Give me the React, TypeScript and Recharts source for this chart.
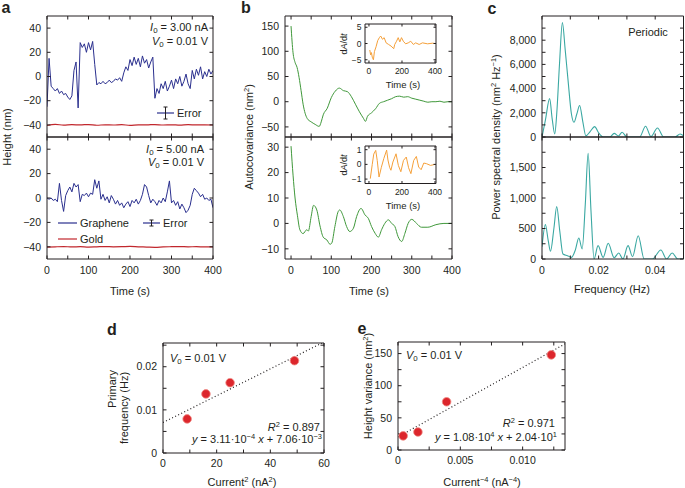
import React from "react";
import { LineChart, ComposedChart, Line, Scatter, XAxis, YAxis } from "recharts";

const FONT = "'Liberation Sans', Arial, Helvetica, sans-serif";
const INK = "#231f20";
const BLUE = "#2a2f8e";
const RED = "#c1272d";
const GREEN = "#3f983a";
const ORANGE = "#f5a03a";
const TEAL = "#3aa8a2";
const DOT = "#dc262c";

// ---- a: height traces (5 s steps) ----
const aTime = [0, 5, 10, 15, 20, 25, 30, 35, 40, 45, 50, 55, 60, 65, 70, 75, 80, 85, 90, 95, 100, 105, 110, 115, 120, 125, 130, 135, 140, 145, 150, 155, 160, 165, 170, 175, 180, 185, 190, 195, 200, 205, 210, 215, 220, 225, 230, 235, 240, 245, 250, 255, 260, 265, 270, 275, 280, 285, 290, 295, 300, 305, 310, 315, 320, 325, 330, 335, 340, 345, 350, 355, 360, 365, 370, 375, 380, 385, 390, 395, 400];
const aTopGraphene = [
  -25, 15, -8, -10, -12, -10, -14, -12, -15, -14,
  -17, -19, -16, 5, 12, -26, 28, 24, 27, 20,
  28, 22, 29, 10, -7, -5, -6, -4, -6, -5,
  -3, -5, -4, -2, -3, -1, -4, 3, 8, 5,
  14, 9, 16, 10, 15, 8, 17, 11, 14, 7,
  12, 16, -18, -10, -14, -6, -10, -4, -12, -8,
  -3, -10, -2, -6, 0, -8, -4, 2, -6, -10,
  5, -2, 6, 1, 8, -2, 4, 0, 6, 2,
  5,
];
const aBottomGraphene = [
  0, -1, 0, -2, -1, -3, 12, -2, -11, 2,
  6, 9, 5, 12, 9, 11, -3, 3, 2, 4,
  1, 4, 3, 15, 8, 14, -1, 3, -2, 1,
  -4, 2, -1, -5, -2, -6, -4, -8, -5, -3,
  -7, -2, -4, -1, -5, -2, 3, 11, 9, 2,
  -4, -1, -3, -6, -2, -4, 0, -3, 5, 14,
  -4, -2, -6, -3, -9, -5, -8, -12, -10, -6,
  3, 8, 6, 4, 1, 3, -1, 0, -2, -1,
  -8,
];
const goldTime = [0, 20, 40, 60, 80, 100, 120, 140, 160, 180, 200, 220, 240, 260, 280, 300, 320, 340, 360, 380, 400];
const aTopGold = [-40.5, -39.6, -40.2, -39.8, -40, -39.7, -40.3, -39.9, -40.1, -39.8, -40.4, -39.9, -40, -39.7, -40.1, -39.9, -40.2, -39.8, -40, -39.9, -40.1];
const aBottomGold = [-40.3, -40, -39.8, -40.1, -39.9, -40.2, -40, -39.8, -40, -39.9, -39.7, -40, -40.2, -40.4, -40.1, -39.9, -39.8, -40, -39.9, -40.1, -40];

// ---- b: autocovariance ----
const bTopTime = [0, 5, 10, 15, 20, 25, 30, 40, 50, 60, 70, 75, 80, 90, 100, 110, 120, 130, 140, 150, 160, 170, 180, 185, 190, 200, 210, 220, 230, 240, 250, 260, 270, 280, 290, 300, 310, 320, 330, 340, 350, 360, 370, 380, 390, 400];
const bTopValue = [150, 97, 78, 68, 48, 22, -5, -33, -40, -45, -49, -40, -26, -13, 8, 21, 27, 22, 20, 10, -5, -20, -33, -39, -29, -22, -14, -3, 0, 3, 6, 10, 11, 9, 10, 7, 5, 3, 1, -1, 0, 0, 1, -1, 0, 0];
const bBottomTime = [0, 5, 10, 16, 22, 30, 39, 43, 50, 56, 64, 72, 80, 89, 97, 101, 109, 117, 121, 130, 138, 146, 155, 163, 174, 184, 192, 200, 209, 217, 225, 233, 242, 250, 258, 266, 275, 283, 291, 300, 312, 324, 340, 360, 380, 400];
const bBottomValue = [30.4, 19, 10, 3, -2.5, -4, -2.5, -3, 2.7, 7.1, 5.3, -1, -5.4, -6.5, -8.2, -7.8, -1.2, 4.6, 5.3, 2.7, -1.2, -3.2, -1.9, 2.7, 5.9, 3.3, 2, -1.2, -3.9, -5.4, -2.5, 0, 1.4, 0, -1.2, -5.2, -7.1, -3.9, 0, 1.6, 0, -1.5, -1.5, -0.5, 0, 0];
const insetTopTime = [5, 10, 15, 20, 27, 33, 43, 53, 63, 71, 82, 92, 104, 119, 134, 150, 156, 167, 177, 187, 197, 208, 222, 238, 253, 269, 283, 304, 324, 355, 386, 400];
const insetTopValue = [-2, -3.5, -2.8, -4.2, -5, -2.5, -1, 0.9, 1.8, 2.3, 1.3, 1.8, 0.2, -0.3, -0.8, -1.6, -0.3, 0.7, 1.8, 0.5, 1.8, 0.7, -0.1, 0.2, 0.7, -0.3, 0.2, -0.3, 0.2, -0.1, 0.1, 0];
const insetBottomTime = [8, 20, 29, 41, 50, 61, 75, 90, 107, 115, 125, 133, 145, 164, 178, 193, 209, 226, 240, 254, 271, 287, 301, 316, 332, 348, 373, 400];
const insetBottomValue = [-0.97, 0, 0.7, 0.95, 0.27, -0.86, -0.2, 0.4, 0.97, 0.3, -0.2, -0.4, 0.16, 0.72, -0.07, -0.5, 0.27, 0.5, -0.23, -0.63, 0.27, 0.54, -0.18, -0.36, 0.09, 0.05, -0.07, 0];

// ---- c: power spectral density ----
const cTopFreq = [0, 0.0012, 0.0027, 0.0036, 0.0045, 0.0052, 0.0062, 0.0072, 0.0082, 0.0092, 0.0104, 0.0113, 0.0123, 0.0133, 0.0144, 0.0155, 0.017, 0.0186, 0.02, 0.0216, 0.024, 0.0255, 0.027, 0.0283, 0.03, 0.0345, 0.0366, 0.0385, 0.0408, 0.043, 0.047, 0.0488, 0.05];
const cTopPsd = [0, 1400, 3170, 1500, 250, 1900, 6100, 9450, 7200, 4700, 1900, 1220, 1900, 2600, 1300, 100, 450, 860, 350, 0, 0, 300, 80, 390, 0, 0, 890, 30, 750, 0, 0, 250, 100];
const cBottomFreq = [0, 0.0012, 0.0022, 0.003, 0.0042, 0.0052, 0.0063, 0.0074, 0.009, 0.0104, 0.0118, 0.013, 0.0142, 0.0153, 0.0163, 0.0173, 0.0184, 0.0198, 0.0216, 0.0234, 0.0255, 0.0271, 0.0286, 0.0304, 0.032, 0.034, 0.0361, 0.039, 0.042, 0.044, 0.046, 0.048, 0.05];
const cBottomPsd = [200, 563, 300, 126, 500, 858, 450, 82, 55, 27, 150, 344, 164, 900, 1732, 800, 0, 219, 27, 257, 20, 98, 0, 219, 38, 382, 0, 0, 148, 0, 98, 0, 0];

// ---- d, e: fits ----
const dCurrentSq = [9, 16, 25, 49];
const dFrequency = [0.0079, 0.0137, 0.0163, 0.0214];
const dFitX = [0, 60];
const dFitY = [0.00706, 0.02572];
const eCurrentInv4 = [0.000416, 0.0016, 0.0039, 0.0123];
const eVariance = [22, 28, 75, 148];
const eFitX = [0, 0.0134];
const eFitY = [20.4, 165.1];

// ticks
const aXTicks = [0, 50, 100, 150, 200, 250, 300, 350, 400];
const aYTicks = [-40, -20, 0, 20, 40];
const bTopYTicks = [-50, 0, 50, 100, 150];
const bBottomYTicks = [-10, 0, 10, 20, 30];
const insetXTicks = [0, 200, 400];
const cXTicks = [0, 0.01, 0.02, 0.03, 0.04];
const cTopYTicks = [0, 1000, 2000, 3000, 4000, 5000, 6000, 7000, 8000, 9000];
const cBottomYTicks = [0, 250, 500, 750, 1000, 1250, 1500, 1750];
const dXTicks = [0, 10, 20, 30, 40, 50, 60];
const dYTicks = [0, 0.005, 0.01, 0.015, 0.02, 0.025];
const eXTicks = [0, 0.0025, 0.005, 0.0075, 0.01, 0.0125];
const eYTicks = [0, 25, 50, 75, 100, 125, 150];

const pairs = (xs: number[], ys: number[]) => xs.map((x, i) => ({ x, y: ys[i] }));
const blank = () => "";
const num = (v: number) => (v < 0 ? "\u2212" + Math.abs(v) : String(v));
const every = (step: number) => (v: number) => (Math.abs(v % step) < 1e-9 ? num(v) : "");
const labelMap = (m: Record<string, string>) => (v: number) => m[String(v)] ?? "";

type Rect = { x: number; y: number; w: number; h: number };

// chart box around a plot rect: yw = left axis width, xh = bottom axis height,
// mr / mb = spare room on the right / below so edge labels are not clipped
function frame(r: Rect, yw: number, xh: number, mr = 0, mb = 0) {
  return {
    style: { position: "absolute", left: r.x - yw, top: r.y - 1 } as React.CSSProperties,
    width: yw + r.w + 1 + mr,
    height: 1 + r.h + xh + mb,
    margin: { top: 0, right: mr, bottom: mb, left: 0 },
  };
}

function xAx(domain: number[], ticks: number[], fmt: (v: number) => string, height: number, tm = 11, size = 10.5, ts = 3.5) {
  return {
    type: "number" as const,
    dataKey: "x",
    domain,
    ticks,
    allowDataOverflow: true,
    interval: 0 as const,
    height,
    tickFormatter: fmt,
    tickSize: -ts,
    tickMargin: tm,
    axisLine: { stroke: INK, strokeWidth: 1 },
    tickLine: { stroke: INK, strokeWidth: 1 },
    tick: { fontSize: size, fill: INK, fontFamily: FONT },
  };
}

function yAx(domain: number[], ticks: number[], fmt: (v: number) => string, width: number, tm = 9.5, size = 10.5, ts = 3.5) {
  return {
    type: "number" as const,
    dataKey: "y",
    domain,
    ticks,
    allowDataOverflow: true,
    interval: 0 as const,
    width,
    tickFormatter: fmt,
    tickSize: -ts,
    tickMargin: tm,
    axisLine: { stroke: INK, strokeWidth: 1 },
    tickLine: { stroke: INK, strokeWidth: 1 },
    tick: { fontSize: size, fill: INK, fontFamily: FONT },
  };
}

type TxtProps = {
  x: number;
  y: number;
  anchor?: "start" | "middle" | "end";
  size?: number;
  rotate?: boolean;
  bold?: boolean;
  children: React.ReactNode;
};

function Txt({ x, y, anchor = "middle", size = 11, rotate = false, bold = false, children }: TxtProps) {
  const tx = anchor === "start" ? "0" : anchor === "end" ? "-100%" : "-50%";
  return (
    <div
      style={{
        position: "absolute",
        left: x,
        top: y,
        transform: rotate ? "translate(-50%, -50%) rotate(-90deg)" : `translate(${tx}, -50%)`,
        fontSize: size,
        fontWeight: bold ? 700 : 400,
        whiteSpace: "nowrap",
        lineHeight: 1,
        color: INK,
        fontFamily: FONT,
      }}
    >
      {children}
    </div>
  );
}

const Sup = ({ children }: { children: React.ReactNode }) => (
  <span style={{ fontSize: "0.68em", position: "relative", top: "-0.5em" }}>{children}</span>
);
const Sub = ({ children }: { children: React.ReactNode }) => (
  <span style={{ fontSize: "0.72em", position: "relative", top: "0.25em" }}>{children}</span>
);

function LineKey({ x, y, color, w = 19 }: { x: number; y: number; color: string; w?: number }) {
  return (
    <svg style={{ position: "absolute", left: x, top: y - 2 }} width={w} height={4}>
      <line x1={0} y1={2} x2={w} y2={2} stroke={color} strokeWidth={1.2} />
    </svg>
  );
}

function ErrorKey({ x, y, half, w = 17 }: { x: number; y: number; half: number; w?: number }) {
  const c = w / 2;
  return (
    <svg style={{ position: "absolute", left: x, top: y - half - 1 }} width={w} height={2 * half + 2}>
      <line x1={0} y1={half + 1} x2={w} y2={half + 1} stroke={BLUE} strokeWidth={1.2} />
      <line x1={c} y1={1} x2={c} y2={2 * half + 1} stroke={INK} strokeWidth={1} />
      <line x1={c - 2} y1={1} x2={c + 2} y2={1} stroke={INK} strokeWidth={1} />
      <line x1={c - 2} y1={2 * half + 1} x2={c + 2} y2={2 * half + 1} stroke={INK} strokeWidth={1} />
    </svg>
  );
}

const RedDot = (p: any) => <circle cx={p.cx} cy={p.cy} r={4.3} fill={DOT} stroke="#f08a84" strokeWidth={0.8} />;

export default function App() {
  const aTopR = { x: 47, y: 16, w: 166, h: 121 };
  const aBotR = { x: 47, y: 137, w: 166, h: 122 };
  const bTopR = { x: 285, y: 16, w: 167, h: 121 };
  const bBotR = { x: 285, y: 137, w: 167, h: 122 };
  const inTopR = { x: 365, y: 24, w: 71, h: 39 };
  const inBotR = { x: 365, y: 146, w: 71, h: 37.5 };
  const cTopR = { x: 542, y: 16, w: 141.5, h: 121 };
  const cBotR = { x: 542, y: 137, w: 141.5, h: 122 };
  const dR = { x: 163, y: 343, w: 161, h: 110 };
  const eR = { x: 398, y: 342, w: 167, h: 108 };

  const aDom = [0, 400];
  const aYDom = [-50, 50];
  const bDom = [-15, 400];
  const inDom = [-24, 406];
  const cDom = [0, 0.05];

  const f1 = frame(aTopR, 47, 1, 0, 8);
  const f2 = frame(aBotR, 47, 30, 14);
  const f3 = frame(bTopR, 45, 1, 0, 8);
  const f4 = frame(bBotR, 45, 30, 14);
  const f5 = frame(inTopR, 22, 16, 10);
  const f6 = frame(inBotR, 22, 16, 10);
  const f7 = frame(cTopR, 50, 1, 0, 8);
  const f8 = frame(cBotR, 50, 30);
  const f9 = frame(dR, 45, 30, 10);
  const f10 = frame(eR, 40, 30, 10);

  const cFmt = (v: number) => (v % 2000 === 0 ? v.toLocaleString("en-US") : "");
  const cBotFmt = (v: number) => (v % 500 === 0 ? v.toLocaleString("en-US") : "");

  return (
    <div style={{ position: "absolute", left: 0, top: 0, width: 685, height: 488, background: "#fff", fontFamily: FONT, overflow: "hidden" }}>
      {/* ---------- a ---------- */}
      <div style={f1.style}>
        <LineChart width={f1.width} height={f1.height} margin={f1.margin}>
          <XAxis {...xAx(aDom, aXTicks, blank, 1)} />
          <XAxis xAxisId="top" orientation="top" {...xAx(aDom, aXTicks, blank, 1)} />
          <YAxis {...yAx(aYDom, aYTicks, num, 47)} />
          <YAxis yAxisId="right" orientation="right" {...yAx(aYDom, aYTicks, blank, 1)} />
          <Line data={pairs(goldTime, aTopGold)} dataKey="y" type="monotone" stroke={RED} strokeWidth={1.2} dot={false} isAnimationActive={false} />
          <Line data={pairs(aTime, aTopGraphene)} dataKey="y" type="linear" stroke={BLUE} strokeWidth={1} dot={false} isAnimationActive={false} />
        </LineChart>
      </div>
      <div style={f2.style}>
        <LineChart width={f2.width} height={f2.height} margin={f2.margin}>
          <XAxis {...xAx(aDom, aXTicks, every(100), 30)} />
          <XAxis xAxisId="top" orientation="top" {...xAx(aDom, aXTicks, blank, 1)} />
          <YAxis {...yAx(aYDom, aYTicks, num, 47)} />
          <YAxis yAxisId="right" orientation="right" {...yAx(aYDom, aYTicks, blank, 1)} />
          <Line data={pairs(goldTime, aBottomGold)} dataKey="y" type="monotone" stroke={RED} strokeWidth={1.2} dot={false} isAnimationActive={false} />
          <Line data={pairs(aTime, aBottomGraphene)} dataKey="y" type="linear" stroke={BLUE} strokeWidth={1} dot={false} isAnimationActive={false} />
        </LineChart>
      </div>

      {/* ---------- b ---------- */}
      <div style={f3.style}>
        <LineChart width={f3.width} height={f3.height} margin={f3.margin}>
          <XAxis {...xAx(bDom, aXTicks, blank, 1)} />
          <XAxis xAxisId="top" orientation="top" {...xAx(bDom, aXTicks, blank, 1)} />
          <YAxis {...yAx([-70, 170], bTopYTicks, num, 45)} />
          <YAxis yAxisId="right" orientation="right" {...yAx([-70, 170], bTopYTicks, blank, 1)} />
          <Line data={pairs(bTopTime, bTopValue)} dataKey="y" type="monotone" stroke={GREEN} strokeWidth={1} dot={false} isAnimationActive={false} />
        </LineChart>
      </div>
      <div style={f4.style}>
        <LineChart width={f4.width} height={f4.height} margin={f4.margin}>
          <XAxis {...xAx(bDom, aXTicks, every(100), 30)} />
          <XAxis xAxisId="top" orientation="top" {...xAx(bDom, aXTicks, blank, 1)} />
          <YAxis {...yAx([-14, 34], bBottomYTicks, num, 45)} />
          <YAxis yAxisId="right" orientation="right" {...yAx([-14, 34], bBottomYTicks, blank, 1)} />
          <Line data={pairs(bBottomTime, bBottomValue)} dataKey="y" type="monotone" stroke={GREEN} strokeWidth={1} dot={false} isAnimationActive={false} />
        </LineChart>
      </div>
      <div style={f5.style}>
        <LineChart width={f5.width} height={f5.height} margin={f5.margin}>
          <XAxis {...xAx(inDom, insetXTicks, num, 16, 7.5, 8.5, 2.5)} />
          <XAxis xAxisId="top" orientation="top" {...xAx(inDom, insetXTicks, blank, 1, 0, 8.5, 2.5)} />
          <YAxis {...yAx([-6, 6], [-5, 0, 5], num, 22, 6, 8.5, 2.5)} />
          <YAxis yAxisId="right" orientation="right" {...yAx([-6, 6], [-5, 0, 5], blank, 1, 0, 8.5, 2.5)} />
          <Line data={pairs(insetTopTime, insetTopValue)} dataKey="y" type="linear" stroke={ORANGE} strokeWidth={1} dot={false} isAnimationActive={false} />
        </LineChart>
      </div>
      <div style={f6.style}>
        <LineChart width={f6.width} height={f6.height} margin={f6.margin}>
          <XAxis {...xAx(inDom, insetXTicks, num, 16, 7.5, 8.5, 2.5)} />
          <XAxis xAxisId="top" orientation="top" {...xAx(inDom, insetXTicks, blank, 1, 0, 8.5, 2.5)} />
          <YAxis {...yAx([-1.3, 1.25], [-1, 0, 1], num, 22, 6, 8.5, 2.5)} />
          <YAxis yAxisId="right" orientation="right" {...yAx([-1.3, 1.25], [-1, 0, 1], blank, 1, 0, 8.5, 2.5)} />
          <Line data={pairs(insetBottomTime, insetBottomValue)} dataKey="y" type="linear" stroke={ORANGE} strokeWidth={1} dot={false} isAnimationActive={false} />
        </LineChart>
      </div>

      {/* ---------- c ---------- */}
      <div style={f7.style}>
        <LineChart width={f7.width} height={f7.height} margin={f7.margin}>
          <XAxis {...xAx(cDom, cXTicks, blank, 1)} />
          <XAxis xAxisId="top" orientation="top" {...xAx(cDom, cXTicks, blank, 1)} />
          <YAxis {...yAx([0, 10000], cTopYTicks, cFmt, 50)} />
          <YAxis yAxisId="right" orientation="right" {...yAx([0, 10000], cTopYTicks, blank, 1)} />
          <Line data={pairs(cTopFreq, cTopPsd)} dataKey="y" type="monotone" stroke={TEAL} strokeWidth={1.1} dot={false} isAnimationActive={false} />
        </LineChart>
      </div>
      <div style={f8.style}>
        <LineChart width={f8.width} height={f8.height} margin={f8.margin}>
          <XAxis {...xAx(cDom, cXTicks, labelMap({ "0": "0", "0.02": "0.02", "0.04": "0.04" }), 30)} />
          <XAxis xAxisId="top" orientation="top" {...xAx(cDom, cXTicks, blank, 1)} />
          <YAxis {...yAx([0, 2000], cBottomYTicks, cBotFmt, 50)} />
          <YAxis yAxisId="right" orientation="right" {...yAx([0, 2000], cBottomYTicks, blank, 1)} />
          <Line data={pairs(cBottomFreq, cBottomPsd)} dataKey="y" type="monotone" stroke={TEAL} strokeWidth={1.1} dot={false} isAnimationActive={false} />
        </LineChart>
      </div>

      {/* ---------- d ---------- */}
      <div style={f9.style}>
        <ComposedChart width={f9.width} height={f9.height} margin={f9.margin}>
          <XAxis {...xAx([0, 60], dXTicks, every(20), 30, 10)} />
          <XAxis xAxisId="top" orientation="top" {...xAx([0, 60], dXTicks, blank, 1)} />
          <YAxis {...yAx([0, 0.0255], dYTicks, labelMap({ "0": "0", "0.01": "0.01", "0.02": "0.02" }), 45)} />
          <YAxis yAxisId="right" orientation="right" {...yAx([0, 0.0255], dYTicks, blank, 1)} />
          <Line data={pairs(dFitX, dFitY)} dataKey="y" type="linear" stroke={INK} strokeWidth={1.2} strokeDasharray="1 2.4" dot={false} isAnimationActive={false} />
          <Scatter data={pairs(dCurrentSq, dFrequency)} shape={RedDot} isAnimationActive={false} />
        </ComposedChart>
      </div>

      {/* ---------- e ---------- */}
      <div style={f10.style}>
        <ComposedChart width={f10.width} height={f10.height} margin={f10.margin}>
          <XAxis {...xAx([0, 0.0134], eXTicks, labelMap({ "0": "0", "0.005": "0.005", "0.01": "0.010" }), 30, 10.5)} />
          <XAxis xAxisId="top" orientation="top" {...xAx([0, 0.0134], eXTicks, blank, 1)} />
          <YAxis {...yAx([0, 168], eYTicks, every(50), 40)} />
          <YAxis yAxisId="right" orientation="right" {...yAx([0, 168], eYTicks, blank, 1)} />
          <Line data={pairs(eFitX, eFitY)} dataKey="y" type="linear" stroke={INK} strokeWidth={1.2} strokeDasharray="1 2.4" dot={false} isAnimationActive={false} />
          <Scatter data={pairs(eCurrentInv4, eVariance)} shape={RedDot} isAnimationActive={false} />
        </ComposedChart>
      </div>

      {/* ---------- text overlays ---------- */}
      <Txt x={6} y={8} size={16} bold>a</Txt>
      <Txt x={246} y={8} size={16} bold>b</Txt>
      <Txt x={492} y={9} size={16} bold>c</Txt>
      <Txt x={112} y={330} size={16} bold>d</Txt>
      <Txt x={362} y={329} size={16} bold>e</Txt>

      <Txt x={208} y={27} anchor="end"><i>I</i><Sub>0</Sub> = 3.00 nA</Txt>
      <Txt x={208} y={41} anchor="end"><i>V</i><Sub>0</Sub> = 0.01 V</Txt>
      <ErrorKey x={157} y={113} half={6} />
      <Txt x={177} y={113} anchor="start">Error</Txt>
      <Txt x={204} y={149} anchor="end"><i>I</i><Sub>0</Sub> = 5.00 nA</Txt>
      <Txt x={204} y={162} anchor="end"><i>V</i><Sub>0</Sub> = 0.01 V</Txt>
      <LineKey x={58} y={223} color={BLUE} />
      <Txt x={80} y={223} anchor="start">Graphene</Txt>
      <ErrorKey x={143} y={223} half={3} />
      <Txt x={163} y={223} anchor="start">Error</Txt>
      <LineKey x={58} y={239} color={RED} />
      <Txt x={80} y={239} anchor="start">Gold</Txt>
      <Txt x={7} y={137} rotate>Height (nm)</Txt>
      <Txt x={130} y={291}>Time (s)</Txt>

      <Txt x={249} y={137} rotate>Autocovariance (nm<Sup>2</Sup>)</Txt>
      <Txt x={369} y={291}>Time (s)</Txt>
      <Txt x={344} y={44} size={9} rotate>d<i>A</i>/d<i>t</i></Txt>
      <Txt x={403} y={85} size={9.5}>Time (s)</Txt>
      <Txt x={344} y={165} size={9} rotate>d<i>A</i>/d<i>t</i></Txt>
      <Txt x={403} y={206} size={9.5}>Time (s)</Txt>

      <Txt x={648} y={32}>Periodic</Txt>
      <Txt x={496} y={137} rotate>Power spectral density (nm<Sup>2</Sup> Hz<Sup>{"\u22121"}</Sup>)</Txt>
      <Txt x={612} y={289}>Frequency (Hz)</Txt>

      <Txt x={170} y={358} anchor="start"><i>V</i><Sub>0</Sub> = 0.01 V</Txt>
      <Txt x={320} y={427} anchor="end"><i>R</i><Sup>2</Sup> = 0.897</Txt>
      <Txt x={322} y={439} anchor="end"><i>y</i> = 3.11·10<Sup>{"\u22124"}</Sup> <i>x</i> + 7.06·10<Sup>{"\u22123"}</Sup></Txt>
      <Txt x={112} y={389} rotate>Primary</Txt>
      <Txt x={124} y={408} rotate>frequency (Hz)</Txt>
      <Txt x={242} y={482}>Current<Sup>2</Sup> (nA<Sup>2</Sup>)</Txt>

      <Txt x={406} y={355} anchor="start"><i>V</i><Sub>0</Sub> = 0.01 V</Txt>
      <Txt x={555} y={423} anchor="end"><i>R</i><Sup>2</Sup> = 0.971</Txt>
      <Txt x={557} y={437} anchor="end"><i>y</i> = 1.08·10<Sup>4</Sup> <i>x</i> + 2.04·10<Sup>1</Sup></Txt>
      <Txt x={368} y={386} rotate>Height variance (nm<Sup>2</Sup>)</Txt>
      <Txt x={482} y={482}>Current<Sup>{"\u22124"}</Sup> (nA<Sup>{"\u22124"}</Sup>)</Txt>
    </div>
  );
}
